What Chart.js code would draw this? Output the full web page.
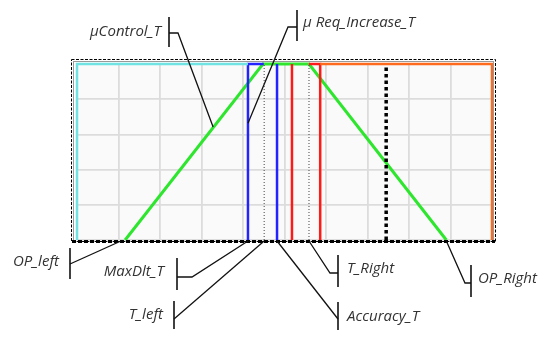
<!DOCTYPE html>
<html lang="en">
<head>
    <meta charset="UTF-8">
    <title>Temperature control window</title>
    <script src="https://cdn.jsdelivr.net/npm/chart.js"></script>
    <style>
        html, body { margin: 0; padding: 0; background: #fff; }
        #wrap { width: 550px; height: 337px; }
    </style>
</head>
<body>
    <div id="wrap"><canvas id="chart"></canvas></div>

    <script>
        // Axis ranges (grid is 10 x 5 cells)
        const xRange = [0, 10];
        const yRange = [0, 5];

        // Membership curve (green trapezoid)
        const greenX = [1.16, 4.48, 5.59, 8.9];
        const greenY = [0, 5, 5, 0];

        // Cyan outline on the left / top
        const cyanX = [0, 0, 4.12];
        const cyanY = [0, 5, 5];

        // Blue limits
        const blue1X = [4.12, 4.12, 4.5];
        const blue1Y = [0, 5, 5];
        const blue2X = [4.82, 4.82];
        const blue2Y = [0, 5];

        // Red limits
        const red1X = [5.18, 5.18];
        const red1Y = [0, 5];
        const red2X = [5.59, 5.86, 5.86];
        const red2Y = [5, 5, 0];

        // Orange outline on the right / top
        const orangeX = [5.86, 10, 10];
        const orangeY = [5, 5, 0];

        // Thin dotted marks and the heavy dashed one
        const dotted1X = 4.51;
        const dotted2X = 5.59;
        const heavyX = 7.45;

        // Callout labels
        const labelTexts = ['μControl_T', 'μ Req_Increase_T', 'OP_left', 'MaxDlt_T',
            'T_left', 'T_Right', 'Accuracy_T', 'OP_Right'];
        const targetX = [3.28, 4.12, greenX[0] - 0.1, blue1X[0], dotted1X, dotted2X, blue2X[0], greenX[3]];
        const targetY = [3.21, 3.32, 0, 0, 0, 0, 0, 0];

        function pts(xs, ys) {
            return xs.map((v, i) => ({ x: v, y: ys[i] }));
        }

        function vline(xv) {
            return [{ x: xv, y: yRange[0] }, { x: xv, y: yRange[1] }];
        }

        // label layout: text anchor, bracket, elbow
        const callouts = [
            { tx: 161, ty: 32, align: 'right', bx: 169, b1: 17, b2: 47, sx: 169, sy: 33, ex: 178, ey: 33 },
            { tx: 303, ty: 23, align: 'left', bx: 297, b1: 10, b2: 41, sx: 297, sy: 27, ex: 288, ey: 27 },
            { tx: 59, ty: 262, align: 'right', bx: 70, b1: 248, b2: 279, sx: 70, sy: 264 },
            { tx: 164, ty: 272, align: 'right', bx: 177, b1: 258, b2: 290, sx: 177, sy: 277, ex: 192, ey: 277 },
            { tx: 163, ty: 315, align: 'right', bx: 174, b1: 301, b2: 329, sx: 174, sy: 319 },
            { tx: 347, ty: 269, align: 'left', bx: 338, b1: 255, b2: 287, sx: 338, sy: 273, ex: 330, ey: 273 },
            { tx: 347, ty: 317, align: 'left', bx: 338, b1: 302, b2: 330, sx: 338, sy: 319 },
            { tx: 478, ty: 279, align: 'left', bx: 471, b1: 265, b2: 297, sx: 471, sy: 283, ex: 465, ey: 283 }
        ];

        const decorPlugin = {
            id: 'decor',
            beforeDraw(chart) {
                const { ctx, chartArea: a } = chart;
                ctx.save();
                ctx.fillStyle = '#fafafa';
                ctx.fillRect(a.left, a.top, a.right - a.left, a.bottom - a.top);
                ctx.restore();
            },
            afterDraw(chart) {
                const { ctx, chartArea: a, scales } = chart;
                ctx.save();

                // outer frame
                ctx.strokeStyle = '#999';
                ctx.lineWidth = 1;
                ctx.strokeRect(a.left - 3.5, a.top - 2.5, a.right - a.left + 5, a.bottom - a.top + 4);
                ctx.strokeStyle = '#000';
                ctx.setLineDash([3, 1.5]);
                ctx.strokeRect(a.left - 5.5, a.top - 4.5, a.right - a.left + 9, a.bottom - a.top + 6);
                ctx.lineWidth = 3;
                ctx.setLineDash([4, 2]);
                ctx.beginPath();
                ctx.moveTo(a.left - 5, a.bottom + 1.5);
                ctx.lineTo(a.right + 3, a.bottom + 1.5);
                ctx.stroke();
                ctx.setLineDash([]);

                // callouts
                ctx.font = 'italic 15px "Open Sans"';
                ctx.fillStyle = '#333';
                ctx.textBaseline = 'middle';
                callouts.forEach((c, i) => {
                    ctx.textAlign = c.align;
                    ctx.fillText(labelTexts[i], c.tx, c.ty);

                    ctx.strokeStyle = '#111';
                    ctx.lineWidth = 1.6;
                    ctx.beginPath();
                    ctx.moveTo(c.bx, c.b1);
                    ctx.lineTo(c.bx, c.b2);
                    ctx.stroke();

                    const px = scales.x.getPixelForValue(targetX[i]);
                    const py = targetY[i] === 0 ? a.bottom + 1 : scales.y.getPixelForValue(targetY[i]);
                    ctx.lineWidth = 1.3;
                    ctx.beginPath();
                    ctx.moveTo(c.sx, c.sy);
                    if (c.ex !== undefined) ctx.lineTo(c.ex, c.ey);
                    ctx.lineTo(px, py);
                    ctx.stroke();
                });
                ctx.restore();
            }
        };

        const lineDefaults = { pointRadius: 0, fill: false, tension: 0, clip: 6 };

        new Chart(document.getElementById('chart'), {
            type: 'line',
            data: {
                datasets: [
                    { ...lineDefaults, data: pts(cyanX, cyanY), borderColor: '#6fe3e3', borderWidth: 2.5 },
                    { ...lineDefaults, data: pts(orangeX, orangeY), borderColor: '#ff6a1c', borderWidth: 2.5 },
                    { ...lineDefaults, data: vline(dotted1X), borderColor: '#444', borderWidth: 1, borderDash: [1, 2] },
                    { ...lineDefaults, data: vline(dotted2X), borderColor: '#444', borderWidth: 1, borderDash: [1, 2] },
                    { ...lineDefaults, data: vline(heavyX), borderColor: '#000', borderWidth: 3.5, borderDash: [3.5, 3] },
                    { ...lineDefaults, data: pts(blue1X, blue1Y), borderColor: '#2323ff', borderWidth: 2.5 },
                    { ...lineDefaults, data: pts(blue2X, blue2Y), borderColor: '#2323ff', borderWidth: 2.5 },
                    { ...lineDefaults, data: pts(red1X, red1Y), borderColor: '#ff1a1a', borderWidth: 2.5 },
                    { ...lineDefaults, data: pts(red2X, red2Y), borderColor: '#ff1a1a', borderWidth: 2.5 },
                    { ...lineDefaults, data: pts(greenX, greenY), borderColor: '#2ee62e', borderWidth: 3 }
                ]
            },
            options: {
                responsive: true,
                maintainAspectRatio: false,
                animation: false,
                layout: { padding: { left: 77, right: 58, top: 64, bottom: 97 } },
                plugins: { legend: { display: false }, tooltip: { enabled: false } },
                scales: {
                    x: {
                        type: 'linear', min: xRange[0], max: xRange[1],
                        ticks: { display: false, stepSize: 1 },
                        grid: { color: '#dcdcdc', lineWidth: 1.8, drawTicks: false },
                        border: { display: false }
                    },
                    y: {
                        type: 'linear', min: yRange[0], max: yRange[1],
                        ticks: { display: false, stepSize: 1 },
                        grid: { color: '#dcdcdc', lineWidth: 1.8, drawTicks: false },
                        border: { display: false }
                    }
                }
            },
            plugins: [decorPlugin]
        });
    </script>
</body>
</html>
